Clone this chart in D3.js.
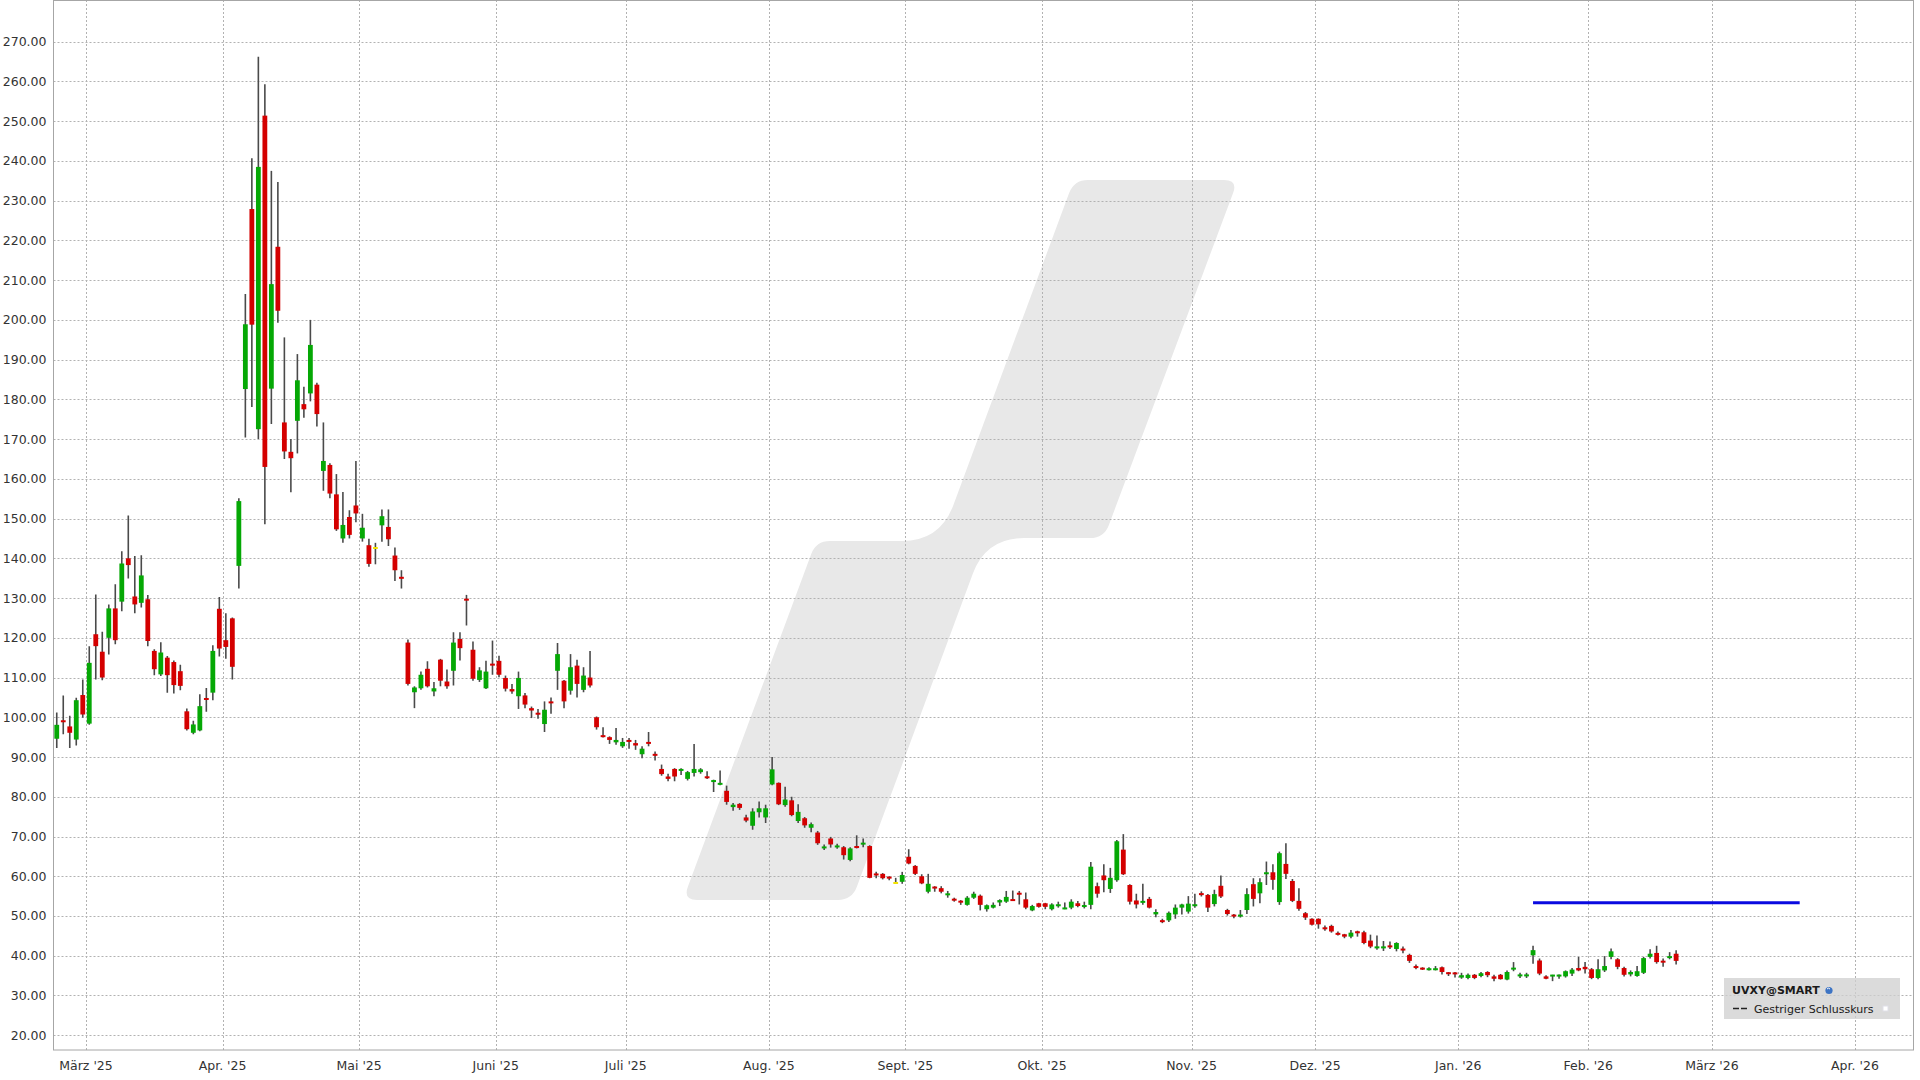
<!DOCTYPE html>
<html><head><meta charset="utf-8">
<script src="https://cdn.jsdelivr.net/npm/d3@7"></script>
<style>html,body{margin:0;padding:0;background:#fff;} svg{display:block;font-family:"DejaVu Sans",Verdana,sans-serif;}</style>
</head><body>
<svg id="chart" width="1920" height="1080"></svg>
<script>
// ---- data (daily candles, first trading day = 2025-02-24) ----
const startDate = "2025-02-24";
const endDate = "2026-05-01";
const holidays = ["2025-04-18","2025-05-26","2025-06-19","2025-07-04","2025-09-01","2025-11-27","2025-12-25","2026-01-01","2026-01-19","2026-02-16","2026-04-03"];
const opens = [94.6,99.2,97.7,94.4,105.6,98.4,120.9,116.5,120.0,127.4,129.1,140.0,130.4,128.8,129.7,116.7,110.8,115.0,113.9,111.6,101.5,96.1,96.7,104.8,106.2,127.3,119.4,124.9,138.1,182.6,227.9,172.5,251.4,182.7,218.4,174.2,166.8,174.6,178.8,181.5,183.7,162.0,163.5,156.1,145.0,150.4,153.3,145.0,143.3,142.6,148.3,147.9,140.7,135.3,118.8,106.3,107.3,112.2,106.5,114.5,109.0,111.7,119.7,129.7,117.0,109.4,107.3,113.5,114.2,109.9,107.1,105.3,105.5,102.3,101.1,98.3,104.0,111.7,109.2,106.7,113.0,106.9,110.0,100.0,95.4,95.0,93.7,92.7,94.3,93.5,90.7,93.8,90.8,87.0,85.1,87.0,86.5,84.5,86.0,86.2,85.1,83.8,83.1,81.5,77.4,78.2,74.8,72.7,76.1,74.8,83.1,83.5,77.9,79.1,73.9,74.6,72.2,71.0,67.1,69.5,67.3,67.3,64.1,67.5,68.0,67.6,60.7,60.6,59.9,58.3,58.6,64.9,62.6,60.0,56.1,57.4,57.0,55.3,54.3,53.8,52.8,54.6,55.1,51.7,52.1,53.4,53.6,54.2,55.8,54.2,51.4,53.2,53.2,51.7,52.5,51.7,52.1,53.2,52.3,52.8,57.5,60.2,56.8,59.0,66.7,57.8,53.9,53.3,54.3,50.4,48.9,48.9,50.4,52.1,51.1,52.5,55.7,55.3,53.0,57.6,51.5,50.3,49.9,51.5,58.0,55.7,60.5,61.0,53.5,63.1,58.8,53.8,50.7,49.3,49.3,47.1,47.5,45.7,45.4,44.8,46.1,45.9,43.8,41.9,41.9,42.6,41.7,41.7,40.2,37.4,36.9,36.4,36.4,37.1,35.8,35.7,34.5,34.4,35.2,34.9,35.9,34.8,35.2,34.0,36.6,34.9,34.9,40.1,38.8,34.8,34.8,34.8,34.8,35.5,36.9,37.2,36.6,34.4,36.3,39.7,39.1,36.9,35.3,34.9,35.7,39.7,40.7,38.7,39.4,40.5];
const highs = [101.2,105.5,100.4,104.9,109.5,117.9,130.9,121.5,128.4,133.5,141.8,150.8,140.6,140.8,130.8,117.1,118.9,115.4,114.3,113.2,102.2,99.1,105.8,107.4,118.1,130.3,126.2,125.1,155.1,206.5,240.7,266.2,259.3,237.5,234.7,195.6,170.0,191.4,183.2,200.0,184.2,174.2,163.9,161.2,156.7,152.1,164.5,151.2,144.9,143.9,152.3,152.3,142.7,137.0,119.6,107.8,111.5,114.1,108.9,114.7,112.0,121.4,121.4,130.8,119.1,112.6,114.2,119.3,115.5,110.5,108.4,111.5,106.1,102.7,102.1,104.0,105.0,118.7,109.4,115.9,114.5,112.6,116.7,100.2,97.5,95.2,97.3,94.8,94.8,94.3,92.7,96.3,91.4,88.1,85.8,87.2,87.2,86.5,93.3,87.2,86.4,84.3,86.6,82.8,78.4,78.4,75.5,77.1,78.8,78.0,90.0,83.6,82.5,80.0,78.1,74.9,73.5,71.4,68.0,69.9,68.2,67.6,67.3,70.3,69.5,67.8,61.1,60.8,60.0,59.6,61.1,66.8,62.8,60.5,60.6,57.5,57.5,56.3,54.6,54.0,55.0,56.1,55.4,52.9,53.4,54.2,56.3,56.4,56.3,55.9,52.8,53.3,53.3,53.2,53.6,53.4,54.2,53.8,53.6,63.6,58.4,63.0,62.1,69.1,70.6,58.0,55.6,58.1,54.8,51.7,49.3,51.1,52.9,53.1,55.0,55.6,56.2,55.5,56.6,60.2,51.8,50.5,51.5,57.0,59.5,59.5,63.7,63.0,66.2,68.3,59.3,57.0,51.0,49.4,49.4,47.6,47.8,46.1,45.5,46.5,46.3,46.3,45.3,45.1,43.7,43.6,43.4,42.3,40.5,37.8,37.1,37.1,37.4,37.3,35.9,35.9,35.7,35.5,35.4,35.9,36.1,35.2,35.4,36.3,38.4,35.7,35.7,42.5,39.3,35.1,35.2,35.3,36.3,36.9,39.7,38.4,36.9,39.1,39.9,41.8,39.4,37.2,36.3,37.4,39.7,41.6,42.5,39.3,40.9,41.4];
const lows = [92.3,95.7,92.3,92.9,99.9,98.1,109.5,109.3,115.8,118.4,126.7,134.9,126.2,127.6,117.9,110.6,110.4,106.2,106.0,106.8,96.7,95.7,96.5,101.4,104.3,115.3,114.7,109.5,132.4,170.4,178.1,170.0,148.6,173.8,199.3,165.0,156.6,166.4,175.4,179.5,173.2,157.0,155.1,146.9,143.9,145.0,149.1,144.2,137.9,138.5,144.2,143.1,134.3,132.4,108.0,102.3,106.9,107.5,105.3,107.8,107.2,108.0,114.3,123.1,109.2,108.9,107.1,110.7,110.1,106.5,105.9,102.1,102.3,99.8,99.6,96.3,100.9,106.9,102.3,105.7,105.0,106.3,107.5,96.9,94.9,93.3,93.1,92.3,92.1,91.8,89.7,92.7,89.1,85.3,83.9,83.9,85.5,84.1,85.1,85.8,84.5,81.2,82.9,78.0,76.5,76.7,73.6,71.7,74.8,73.4,82.9,77.9,77.5,75.1,73.4,72.2,71.1,67.9,66.6,67.2,66.9,64.2,63.8,67.0,67.3,59.5,59.5,59.2,59.0,58.1,58.1,63.0,60.3,58.0,55.7,56.1,55.7,54.6,53.6,52.8,52.6,54.3,51.4,51.1,51.9,52.5,53.3,53.8,52.9,51.7,51.2,52.1,51.7,51.4,52.1,51.7,51.7,52.2,51.9,51.7,54.6,56.0,55.8,58.6,60.3,52.9,51.9,52.8,51.9,49.7,48.2,48.5,49.3,50.4,50.6,52.1,54.9,51.0,52.4,54.5,50.1,49.4,49.6,50.5,52.4,53.2,57.8,56.6,52.8,59.3,53.5,51.3,49.0,47.6,46.8,46.3,45.8,45.1,44.4,44.4,44.8,42.9,41.9,41.5,41.2,41.7,41.1,40.6,38.2,36.6,36.4,36.3,36.3,35.3,34.9,34.5,34.2,34.1,34.1,34.6,34.6,33.6,34.0,33.8,36.1,34.4,34.4,38.0,35.1,34.1,33.6,34.2,34.5,34.9,36.1,35.5,34.1,34.1,35.9,39.1,36.6,34.8,34.8,34.7,35.4,39.3,38.0,37.2,39.1,37.8];
const closes = [98.1,98.8,96.1,104.3,100.7,113.7,117.9,110.0,127.4,119.4,138.7,138.3,128.4,135.7,119.2,112.1,116.3,110.6,108.1,107.9,97.0,98.2,102.8,104.4,116.7,117.3,117.7,112.7,154.4,198.9,198.8,238.5,163.0,209.0,202.3,166.9,165.2,184.8,177.5,193.7,176.3,164.5,156.3,147.3,148.4,145.9,151.3,147.7,138.6,142.6,150.6,144.8,137.0,134.9,108.4,107.5,110.7,107.8,107.3,109.2,107.8,118.8,117.4,129.5,109.7,111.8,111.5,113.0,110.7,107.2,106.5,109.9,103.2,101.7,100.7,101.9,103.5,115.9,104.0,112.6,108.4,110.5,108.0,97.5,95.1,94.3,94.3,93.8,93.8,92.9,92.1,93.3,90.3,85.7,84.5,85.1,87.0,86.2,87.0,86.9,84.7,84.1,83.4,78.7,78.0,77.2,74.0,76.3,77.1,77.1,86.9,78.1,79.3,75.4,76.2,72.8,73.1,68.3,67.4,68.0,67.7,65.3,67.0,67.2,68.4,59.6,60.2,59.5,59.4,58.3,60.3,63.2,60.6,58.2,58.1,56.9,56.1,55.6,53.9,53.4,54.6,55.6,52.8,52.7,52.8,54.0,54.8,53.8,55.4,52.1,52.5,52.3,52.3,52.9,52.9,52.1,53.6,52.5,52.7,62.4,55.6,59.0,59.6,68.8,60.5,53.6,52.9,53.8,52.1,51.0,48.5,50.8,52.1,52.9,53.1,52.9,55.3,52.1,55.5,54.9,50.5,49.9,50.3,55.5,54.3,58.5,61.0,59.1,65.8,60.6,53.8,51.8,49.6,47.8,47.9,46.7,46.1,45.3,44.8,45.8,45.7,43.2,42.3,42.3,42.3,42.1,43.2,41.4,38.7,36.9,36.6,36.8,36.8,35.9,35.4,35.4,35.1,35.2,34.4,35.6,35.1,34.2,34.1,35.9,36.9,35.2,35.2,41.4,35.5,34.2,35.2,35.2,36.1,36.5,36.3,36.6,34.4,36.6,37.4,41.1,37.2,35.2,35.9,36.1,39.4,40.5,38.4,38.3,39.9,38.7];
const yTickValues = [20,30,40,50,60,70,80,90,100,110,120,130,140,150,160,170,180,190,200,210,220,230,240,250,260,270];
const monthNames = ["Jan.","Feb.","März","Apr.","Mai","Juni","Juli","Aug.","Sept.","Okt.","Nov.","Dez."];
const refLevel = 53.3;            // blue horizontal line
const refFromDate = "2026-01-20";
const refToDate = "2026-03-19";
const legendTitle = "UVXY@SMART";
const legendItem = "Gestriger Schlusskurs";

// ---- trading calendar ----
const hol = new Set(holidays);
const days = [];
for (let t = Date.parse(startDate + "T00:00:00Z"); t < Date.parse(endDate + "T00:00:00Z"); t += 86400000) {
  const dt = new Date(t), wd = dt.getUTCDay(), iso = dt.toISOString().slice(0,10);
  if (wd !== 0 && wd !== 6 && !hol.has(iso)) days.push(iso);
}
const nDomain = 286;
const monthTicks = [];
days.forEach((d,k) => {
  if (k > 0 && d.slice(0,7) !== days[k-1].slice(0,7) && k <= nDomain) {
    const m = +d.slice(5,7), yy = d.slice(2,4);
    monthTicks.push({k, label: monthNames[m-1] + " '" + yy});
  }
});

// ---- layout ----
const W = 1920, H = 1080;
const L = 53.5, R = 1913.5, T = 0.5, B = 1050;
const svg = d3.select("#chart");
const x = d3.scaleLinear().domain([0, nDomain]).range([L, R]);
const y = d3.scaleLinear().domain([16.4, 280.5]).range([1049.5, 0]);

svg.append("rect").attr("width", W).attr("height", H).attr("fill", "#fff");

const defs = svg.append("defs");
defs.append("clipPath").attr("id","plotclip").append("rect")
  .attr("x", L).attr("y", 0).attr("width", R-L).attr("height", B);

// watermark (decorative logo)
function roundedPoly(pts) {
  let p = "";
  const n = pts.length;
  for (let i = 0; i < n; i++) {
    const [px,py,r] = pts[i], prev = pts[(i-1+n)%n], next = pts[(i+1)%n];
    const d1 = Math.hypot(prev[0]-px, prev[1]-py), d2 = Math.hypot(next[0]-px, next[1]-py);
    const a = [px + (prev[0]-px)*r/d1, py + (prev[1]-py)*r/d1];
    const b = [px + (next[0]-px)*r/d2, py + (next[1]-py)*r/d2];
    p += (i === 0 ? "M" : "L") + a[0] + "," + a[1] + "Q" + px + "," + py + " " + b[0] + "," + b[1];
  }
  return p + "Z";
}
svg.append("path").attr("fill", "#e8e8e8").attr("d", roundedPoly([
  [683,900,14],[816,541,14],[940,541,38],[1074,180,14],[1238,180,14],[1104,538,14],[986,538,38],[852,900,14]
]));

// gridlines
const grid = svg.append("g").attr("stroke", "#b2b2b2").attr("stroke-width", 1).attr("stroke-dasharray", "2,2");
grid.selectAll("line.h").data(yTickValues).join("line")
  .attr("x1", L).attr("x2", R)
  .attr("y1", d => Math.round(y(d)) + 0.5).attr("y2", d => Math.round(y(d)) + 0.5);
grid.selectAll("line.v").data(monthTicks).join("line")
  .attr("y1", 0).attr("y2", B)
  .attr("x1", d => Math.round(x(d.k)) + 0.5).attr("x2", d => Math.round(x(d.k)) + 0.5);

// blue reference line
const refFrom = days.indexOf(refFromDate), refTo = days.indexOf(refToDate);
svg.append("line").attr("stroke", "#0a0ae0").attr("stroke-width", 3)
  .attr("x1", x(refFrom + 0.5)).attr("x2", x(refTo + 0.5))
  .attr("y1", y(refLevel)).attr("y2", y(refLevel));

// candles
const data = opens.map((o,k) => ({k, o, h: highs[k], l: lows[k], c: closes[k]}));
const plot = svg.append("g").attr("clip-path", "url(#plotclip)");
const bw = 4.8;
const colorOf = d => d.c > d.o ? "#05a805" : (d.c < d.o ? "#d40000" : "#f2e200");
plot.selectAll("line.wick").data(data).join("line")
  .attr("stroke", "#4a4a4a").attr("stroke-width", 1.6)
  .attr("x1", d => x(d.k + 0.5)).attr("x2", d => x(d.k + 0.5))
  .attr("y1", d => y(d.h)).attr("y2", d => y(d.l));
plot.selectAll("rect.body").data(data).join("rect")
  .attr("fill", colorOf)
  .attr("x", d => x(d.k + 0.5) - bw/2).attr("width", bw)
  .attr("y", d => {
    const t = y(Math.max(d.o,d.c)), b = y(Math.min(d.o,d.c));
    return (b - t) < 2 ? (t + b)/2 - 1 : t;
  })
  .attr("height", d => Math.max(2, y(Math.min(d.o,d.c)) - y(Math.max(d.o,d.c))));

// frame
svg.append("rect").attr("x", L).attr("y", T).attr("width", R-L).attr("height", B-T)
  .attr("fill", "none").attr("stroke", "#a6a6a6").attr("stroke-width", 1);

// y labels
svg.append("g").selectAll("text").data(yTickValues).join("text")
  .attr("x", 46.5).attr("y", d => y(d)).attr("dy", "0.36em")
  .attr("text-anchor", "end").attr("font-size", 12.5).attr("fill", "#333")
  .text(d => d3.format(".2f")(d));

// x labels
svg.append("g").selectAll("text").data(monthTicks).join("text")
  .attr("x", d => x(d.k)).attr("y", 1069.5)
  .attr("text-anchor", "middle").attr("font-size", 12.5).attr("fill", "#333")
  .text(d => d.label);

// legend
const lg = svg.append("g");
lg.append("rect").attr("x", 1724).attr("y", 978).attr("width", 176).attr("height", 41)
  .attr("fill", "#cfcfcf").attr("fill-opacity", 0.75);
lg.append("text").attr("x", 1732).attr("y", 994).attr("font-size", 11).attr("font-weight", "bold")
  .attr("fill", "#1a1a1a").text(legendTitle);
lg.append("circle").attr("cx", 1829).attr("cy", 990.5).attr("r", 3.6).attr("fill", "#3d74c4");
lg.append("path").attr("d", "M1827,989 a2,2 0 0 1 3,0").attr("stroke", "#fff").attr("stroke-width", 1).attr("fill", "none");
lg.append("line").attr("x1", 1733).attr("x2", 1749).attr("y1", 1008.5).attr("y2", 1008.5)
  .attr("stroke", "#222").attr("stroke-width", 1.6).attr("stroke-dasharray", "6,2");
lg.append("text").attr("x", 1754).attr("y", 1013).attr("font-size", 11).attr("fill", "#1a1a1a").text(legendItem);
lg.append("rect").attr("x", 1883).attr("y", 1006).attr("width", 5).attr("height", 5)
  .attr("fill", "#fff").attr("stroke", "#e0e0e8").attr("stroke-width", 1);
</script>
</body></html>
